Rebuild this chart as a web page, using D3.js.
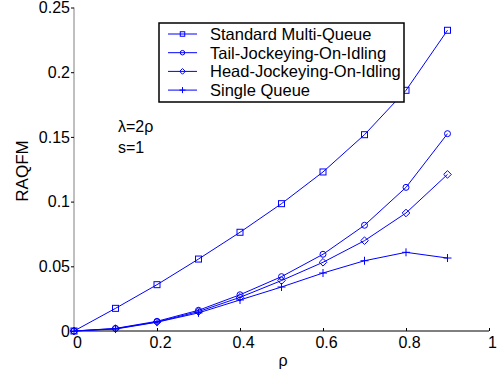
<!DOCTYPE html>
<html>
<head>
<meta charset="utf-8">
<script src="https://cdn.jsdelivr.net/npm/d3@7"></script>
<style>
  body { margin: 0; background: #fff; }
  text { font-family: "Liberation Sans", Arial, sans-serif; }
</style>
</head>
<body>
<svg id="chart"></svg>
<script>
const rho = [0, 0.1, 0.2, 0.3, 0.4, 0.5, 0.6, 0.7, 0.8, 0.9];
const standardMulti = [0, 0.0175, 0.0358, 0.0556, 0.0763, 0.0984, 0.1229, 0.1517, 0.186, 0.2324];
const tailJockey = [0, 0.002, 0.0075, 0.016, 0.028, 0.042, 0.0593, 0.0817, 0.111, 0.1525];
const headJockey = [0, 0.0018, 0.007, 0.015, 0.026, 0.039, 0.0531, 0.0698, 0.0912, 0.121];
const singleQueue = [0, 0.0015, 0.0068, 0.014, 0.024, 0.034, 0.0448, 0.0543, 0.0608, 0.0564];
const seriesNames = ["Standard Multi-Queue", "Tail-Jockeying-On-Idling", "Head-Jockeying-On-Idling", "Single Queue"];
const markers = ["square", "circle", "diamond", "plus"];
const xTicks = [0, 0.2, 0.4, 0.6, 0.8, 1];
const yTicks = [0, 0.05, 0.1, 0.15, 0.2, 0.25];

const width = 497, height = 371;
const blue = "#0000ff";

const svg = d3.select("#chart")
    .attr("width", width)
    .attr("height", height);

const x = d3.scaleLinear().domain([0, 1]).range([74, 489]);
const y = d3.scaleLinear().domain([0, 0.25]).range([331, 7.5]);

// axes
const xAxis = svg.append("g")
    .attr("transform", `translate(0,${y(0)})`)
    .call(d3.axisBottom(x).tickValues(xTicks).tickSize(-3).tickPadding(6)
        .tickFormat(d => d === 0 || d === 1 ? d : d3.format(".1f")(d)));
xAxis.select(".domain").attr("stroke", "#000").attr("d", `M${x(0)},0H${x(1)}`);
xAxis.selectAll(".tick line").attr("stroke", "#000");
xAxis.selectAll(".tick text")
    .attr("font-size", 16).attr("fill", "#000").attr("dx", 3);

const yAxis = svg.append("g")
    .attr("transform", `translate(${x(0)},0)`)
    .call(d3.axisLeft(y).tickValues(yTicks).tickSize(3).tickPadding(1)
        .tickFormat(d => d === 0 ? "0" : String(+d.toFixed(2))));
yAxis.select(".domain").attr("stroke", "#808080").attr("d", `M0,${y(0)}V${y(0.25)}`);
yAxis.selectAll(".tick line").attr("stroke", "#000");
yAxis.selectAll(".tick text").attr("font-size", 16).attr("fill", "#000");

// axis labels
svg.append("text")
    .attr("x", 283).attr("y", 366)
    .attr("text-anchor", "middle")
    .attr("font-size", 16)
    .text("ρ");

svg.append("text")
    .attr("transform", `translate(28,171) rotate(-90)`)
    .attr("text-anchor", "middle")
    .attr("font-size", 17)
    .text("RAQFM");

svg.append("text").attr("x", 118).attr("y", 132).attr("font-size", 16).text("λ=2ρ");
svg.append("text").attr("x", 118).attr("y", 153).attr("font-size", 16).text("s=1");

// markers
function drawMarker(g, type, s = 1) {
    if (type === "square") {
        g.append("rect").attr("x", -3 * s).attr("y", -3 * s).attr("width", 6 * s).attr("height", 6 * s);
    } else if (type === "circle") {
        g.append("circle").attr("r", 3 * s);
    } else if (type === "diamond") {
        g.append("path").attr("d", `M0,${-3.8 * s}L${3.8 * s},0L0,${3.8 * s}L${-3.8 * s},0Z`);
    } else {
        g.append("path").attr("d", `M${-4 * s},0H${4 * s}M0,${-4 * s}V${4 * s}`);
    }
}

const allSeries = [standardMulti, tailJockey, headJockey, singleQueue];
const line = d3.line().x((d, i) => x(rho[i])).y(d => y(d));

allSeries.forEach((vals, k) => {
    const g = svg.append("g").attr("stroke", blue).attr("fill", "none").attr("stroke-width", 1);
    g.append("path").attr("d", line(vals));
    vals.forEach((v, i) => {
        const m = g.append("g").attr("transform", `translate(${x(rho[i])},${y(v)})`);
        drawMarker(m, markers[k]);
    });
});

// legend
const legend = svg.append("g");
legend.append("rect")
    .attr("x", 159).attr("y", 23).attr("width", 245).attr("height", 79)
    .attr("fill", "#fff").attr("stroke", "#000").attr("stroke-width", 1.5);

seriesNames.forEach((name, k) => {
    const ly = 34 + k * 18.7;
    const g = legend.append("g").attr("stroke", blue).attr("fill", "none");
    g.append("line").attr("x1", 168).attr("x2", 197).attr("y1", ly).attr("y2", ly);
    drawMarker(g.append("g").attr("transform", `translate(182.5,${ly})`), markers[k], 0.75);
    legend.append("text")
        .attr("x", 210).attr("y", ly + 6)
        .attr("font-size", 16.5)
        .text(name);
});
</script>
</body>
</html>
